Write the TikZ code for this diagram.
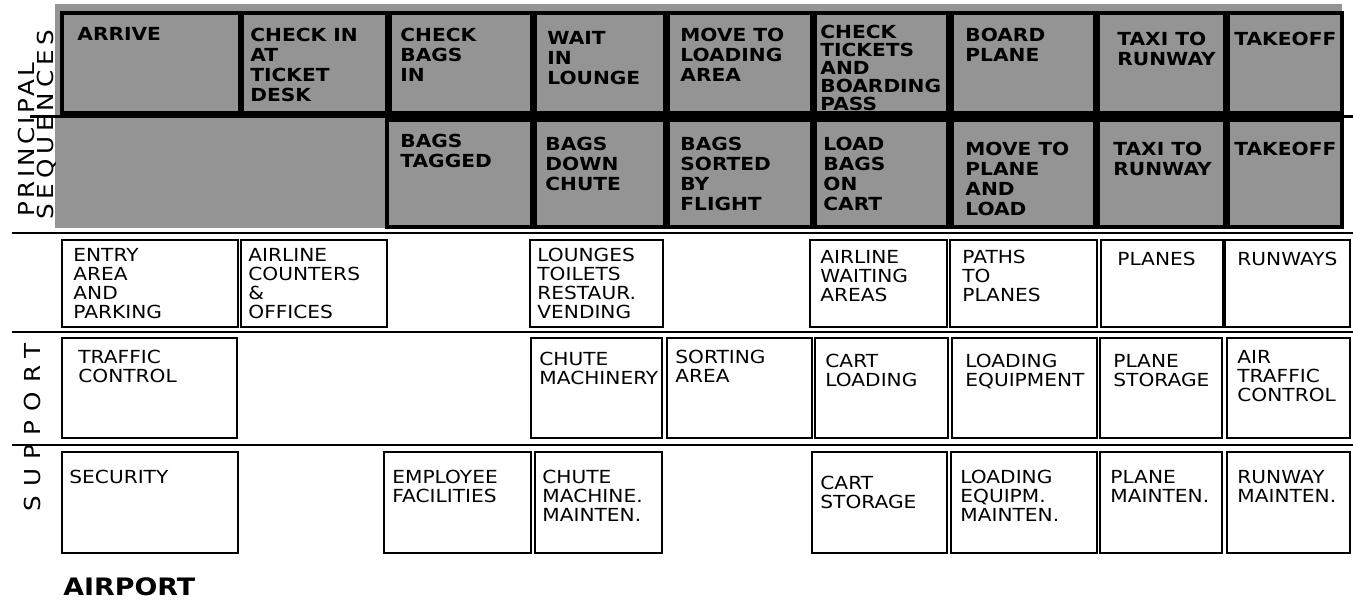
\documentclass[tikz,border=0pt]{standalone}
\usepackage{fontspec}
\setmainfont{DejaVu Sans}[FakeStretch=1.12]
\newcommand\cell[9]{%
  \node[#1box, minimum width={(#5-#3)*0.5pt}, minimum height={(#6-#4)*0.5pt}] (#2) at (#3,#4) {};
  \node[#1txt] (#2t) at ([xshift={#7*0.5pt}, yshift={-#8*0.5pt}]#2.north west) {#9};
}
\begin{document}
\begin{tikzpicture}[x=0.5pt,y=-0.5pt,
  gbox/.style={draw=black, line width=2pt, anchor=north west, inner sep=0pt, outer sep=0pt},
  gtxt/.style={anchor=north west, inner sep=0pt, align=left, font=\bfseries\fontsize{9}{10}\selectfont},
  wbox/.style={draw=black, line width=1pt, fill=white, anchor=north west, inner sep=0pt, outer sep=0pt},
  wtxt/.style={anchor=north west, inner sep=0pt, align=left, font=\fontsize{9}{9.5}\selectfont},
  rule/.style={line width=1.2pt},
  sidelabel/.style={rotate=90, anchor=north west, inner sep=0pt},
]
\useasboundingbox (0,0) rectangle (1353,602);
% grey band of the principal sequences
\fill[black!42] (55,4) rectangle (1342,228);
% horizontal rules
\draw[line width=1.3pt] (30,116.5) -- (1353,116.5);
\draw[rule] (12,233) -- (1353,233);
\draw[rule] (12,332) -- (1353,332);
\draw[rule] (12,445) -- (1353,445);

% first principal row
\cell{g}{p1}{62}{13}{240}{113}{15}{14}{ARRIVE}
\cell{g}{p2}{242}{13}{387}{113}{8}{15}{CHECK IN\\AT\\TICKET\\DESK}
\cell{g}{p3}{390}{13}{532}{113}{10}{15}{CHECK\\BAGS\\IN}
\cell{g}{p4}{535}{13}{665}{113}{12}{18}{WAIT\\IN\\LOUNGE}
\cell{g}{p5}{668}{13}{812}{113}{12}{15}{MOVE TO\\LOADING\\AREA}
\cell{g}{p6}{815}{13}{948}{113}{5}{12}{CHECK\\[-1pt]TICKETS\\[-1pt]AND\\[-1pt]BOARDING\\[-1pt]PASS}
\cell{g}{p7}{952}{13}{1095}{113}{13}{15}{BOARD\\PLANE}
\cell{g}{p8}{1098}{13}{1225}{113}{19}{19}{TAXI TO\\RUNWAY}
\cell{g}{p9}{1228}{13}{1342}{113}{6}{19}{TAKEOFF}

% second principal row
\cell{g}{s3}{387}{120}{532}{227}{13}{14}{BAGS\\TAGGED}
\cell{g}{s4}{535}{120}{665}{227}{10}{17}{BAGS\\DOWN\\CHUTE}
\cell{g}{s5}{668}{120}{812}{227}{12}{17}{BAGS\\SORTED\\BY\\FLIGHT}
\cell{g}{s6}{815}{120}{948}{227}{8}{17}{LOAD\\BAGS\\ON\\CART}
\cell{g}{s7}{952}{120}{1095}{227}{13}{22}{MOVE TO\\PLANE\\AND\\LOAD}
\cell{g}{s8}{1098}{120}{1225}{227}{15}{22}{TAXI TO\\RUNWAY}
\cell{g}{s9}{1228}{120}{1342}{227}{6}{22}{TAKEOFF}

% support row 1
\cell{w}{a1}{62}{240}{238}{327}{11}{8}{ENTRY\\AREA\\AND\\PARKING}
\cell{w}{a2}{241}{240}{387}{327}{7}{8}{AIRLINE\\COUNTERS\\\&\\OFFICES}
\cell{w}{a4}{530}{240}{663}{327}{7}{8}{LOUNGES\\TOILETS\\RESTAUR.\\VENDING}
\cell{w}{a6}{810}{240}{947}{327}{10}{10}{AIRLINE\\WAITING\\AREAS}
\cell{w}{a7}{950}{240}{1097}{327}{12}{10}{PATHS\\TO\\PLANES}
\cell{w}{a8}{1101}{240}{1223}{327}{16}{12}{PLANES}
\cell{w}{a9}{1225}{240}{1350}{327}{12}{12}{RUNWAYS}

% support row 2
\cell{w}{b1}{62}{338}{237}{438}{16}{12}{TRAFFIC\\CONTROL}
\cell{w}{b4}{531}{338}{662}{438}{8}{14}{CHUTE\\MACHINERY}
\cell{w}{b5}{667}{338}{812}{438}{8}{12}{SORTING\\AREA}
\cell{w}{b6}{815}{338}{948}{438}{10}{16}{CART\\LOADING}
\cell{w}{b7}{952}{338}{1097}{438}{13}{16}{LOADING\\EQUIPMENT}
\cell{w}{b8}{1100}{338}{1222}{438}{13}{16}{PLANE\\STORAGE}
\cell{w}{b9}{1227}{338}{1350}{438}{10}{12}{AIR\\TRAFFIC\\CONTROL}

% support row 3
\cell{w}{c1}{62}{452}{238}{553}{7}{18}{SECURITY}
\cell{w}{c3}{384}{452}{531}{553}{8}{18}{EMPLOYEE\\FACILITIES}
\cell{w}{c4}{535}{452}{662}{553}{7}{18}{CHUTE\\MACHINE.\\MAINTEN.}
\cell{w}{c6}{812}{452}{947}{553}{8}{24}{CART\\STORAGE}
\cell{w}{c7}{951}{452}{1097}{553}{9}{18}{LOADING\\EQUIPM.\\MAINTEN.}
\cell{w}{c8}{1100}{452}{1222}{553}{10}{18}{PLANE\\MAINTEN.}
\cell{w}{c9}{1227}{452}{1350}{553}{10}{18}{RUNWAY\\MAINTEN.}

% side labels
\node[sidelabel, font={\fontsize{11}{11}\selectfont\addfontfeature{LetterSpace=16}}] (principal) at (18,217) {PRINCIPAL};
\node[sidelabel, font={\fontsize{11}{11}\selectfont\addfontfeature{LetterSpace=22}}] (sequences) at (37,220) {SEQUENCES};
\node[sidelabel, font={\fontsize{11}{11}\selectfont\addfontfeature{LetterSpace=42}}] (support) at (24,512) {SUPPORT};
\node[anchor=north west, inner sep=0pt, font=\bfseries\fontsize{12}{12}\selectfont] (airport) at (63,577) {AIRPORT};
\end{tikzpicture}
\end{document}
